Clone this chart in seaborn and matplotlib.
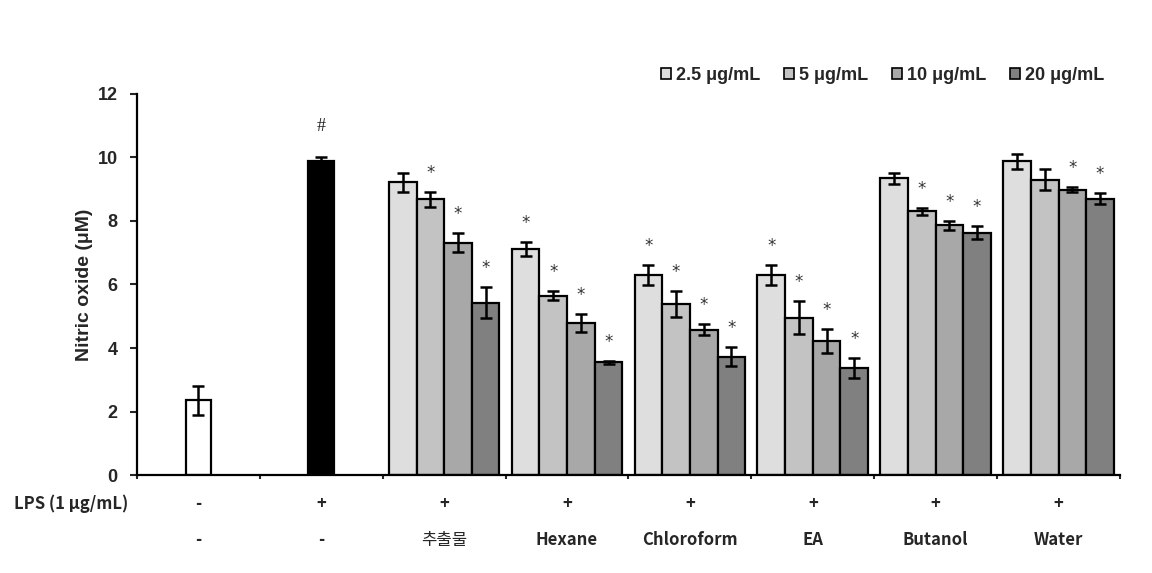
import numpy as np
import pandas as pd
import matplotlib
matplotlib.use('Agg')
import matplotlib.pyplot as plt
import seaborn as sns

# values (uM)
groups = ['추출물', 'Hexane', 'Chloroform', 'EA', 'Butanol', 'Water']
doses = ['2.5 μg/mL', '5 μg/mL', '10 μg/mL', '20 μg/mL']
means = [[9.22, 8.68, 7.32, 5.43],
         [7.11, 5.65, 4.78, 3.55],
         [6.30, 5.38, 4.58, 3.73],
         [6.30, 4.96, 4.23, 3.38],
         [9.34, 8.30, 7.86, 7.63],
         [9.88, 9.30, 8.99, 8.70]]
errs = [[0.30, 0.24, 0.29, 0.50],
        [0.22, 0.15, 0.28, 0.04],
        [0.32, 0.40, 0.17, 0.31],
        [0.32, 0.53, 0.38, 0.31],
        [0.16, 0.10, 0.13, 0.20],
        [0.24, 0.33, 0.09, 0.17]]
stars = [[0, 1, 1, 1],
         [1, 1, 1, 1],
         [1, 1, 1, 1],
         [1, 1, 1, 1],
         [0, 1, 1, 1],
         [0, 0, 1, 1]]
ctrl_names = ['ctrl', 'lps']
ctrl_means = [2.35, 9.89]
ctrl_errs = [0.45, 0.14]
lps_row = ['-', '+', '+', '+', '+', '+', '+', '+']
ext_row = ['-', '-', '추출물', 'Hexane', 'Chloroform', 'EA', 'Butanol', 'Water']
colors = ['#DEDEDE', '#C3C3C3', '#A8A8A8', '#808080']

rows = []
for i, g in enumerate(groups):
    for j, d in enumerate(doses):
        rows.append({'group': g, 'dose': d, 'no': means[i][j]})
df = pd.DataFrame(rows)

sns.set_theme(style='ticks')
plt.rcParams['font.family'] = ['Liberation Sans', 'Noto Sans CJK KR']

fig = plt.figure(figsize=(11.52, 5.73), dpi=100)
ax = fig.add_axes([0.1189, 0.171, 0.8533, 0.665])

order = ctrl_names + groups
sns.barplot(data=df, x='group', y='no', hue='dose', order=order, hue_order=doses,
            palette=colors, width=0.9, errorbar=None, edgecolor='black',
            linewidth=1.6, ax=ax)

# control bars
ax.bar([0, 1], ctrl_means, width=0.21, color=['white', 'black'],
       edgecolor='black', linewidth=1.6)
ax.errorbar([0, 1], ctrl_means, yerr=ctrl_errs, fmt='none', ecolor='black',
            elinewidth=1.8, capsize=4, capthick=1.8)
ax.text(1, ctrl_means[1] + ctrl_errs[1] + 0.95, '#', ha='center', va='center',
        fontsize=13, family='Liberation Serif', color='#222222')

# error bars and stars on group bars
for j, cont in enumerate(ax.containers[:len(doses)]):
    for i, bar in enumerate(cont):
        xc = bar.get_x() + bar.get_width() / 2
        h = bar.get_height()
        ax.errorbar(xc, h, yerr=errs[i][j], fmt='none', ecolor='black',
                    elinewidth=1.8, capsize=4, capthick=1.8)
        if stars[i][j]:
            ax.text(xc, h + errs[i][j] + 0.6, '*', ha='center', va='center',
                    fontsize=12, family='DejaVu Sans', color='#333333')

ax.set_ylim(0, 12)
ax.set_xlim(-0.5, len(order) - 0.5)
ax.set_yticks(range(0, 13, 2))
ax.set_xticks(np.arange(len(order) + 1) - 0.5)
ax.set_xticklabels([])
ax.set_xlabel('')
ax.set_ylabel('Nitric oxide (μM)', fontsize=14, fontweight='bold', labelpad=3)
ax.tick_params(axis='y', labelsize=13, width=1.5, length=5, direction='out', pad=9)
ax.tick_params(axis='x', width=1.5, length=3, direction='out')
for lab in ax.get_yticklabels():
    lab.set_fontweight('bold')
sns.despine(ax=ax)
for s in ['left', 'bottom']:
    ax.spines[s].set_linewidth(1.6)
    ax.spines[s].set_color('black')

# legend
ax.get_legend().remove()
handles = [plt.Rectangle((0, 0), 1, 1, facecolor=c, edgecolor='black', linewidth=1.2)
           for c in colors]
fig.legend(handles, doses, loc='center right', bbox_to_anchor=(0.973, 0.869),
           ncol=4, frameon=False, handlelength=0.55, handleheight=0.55,
           handletextpad=0.3, columnspacing=1.3,
           prop={'weight': 'bold', 'size': 13})

# treatment rows below the axis
tr = ax.get_xaxis_transform()
fig.text(14 / 1152, 0.120, 'LPS (1 μg/mL)', ha='left', va='center',
         fontsize=12, family='Noto Sans CJK KR', fontweight='bold')
for k in range(len(order)):
    ax.text(k, -0.076, lps_row[k], transform=tr, ha='center', va='center',
            fontsize=12, family='Noto Sans CJK KR', fontweight='bold')
    w = 'normal' if ext_row[k] == '추출물' else 'bold'
    ax.text(k, -0.171, ext_row[k], transform=tr, ha='center', va='center',
            fontsize=12, family='Noto Sans CJK KR', fontweight=w)

fig.savefig('out.png', dpi=100, facecolor='white')
